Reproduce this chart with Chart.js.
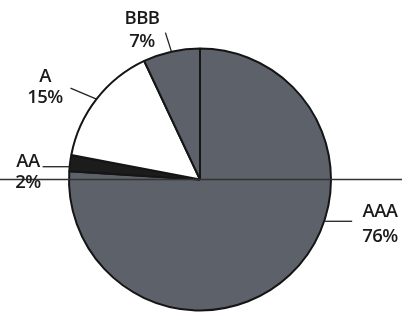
<!DOCTYPE html>
<html>
<head>
<meta charset="utf-8">
<script src="https://cdn.jsdelivr.net/npm/chart.js@4/dist/chart.umd.min.js"></script>
<style>
    html, body { margin: 0; padding: 0; background: #fff; }
    #wrap { width: 402px; height: 314px; }
</style>
</head>
<body>
<div id="wrap"><canvas id="pie" width="402" height="314"></canvas></div>
<script>
// slices, clockwise from 12 o'clock
const ratings = ['AAA', 'AA', 'A', 'BBB'];
const shares = [76, 2, 15, 7];
const sliceColors = ['#5d6169', '#1c1c1c', '#ffffff', '#5d6169'];

// where each callout sits (angle in deg clockwise from top, null = slice middle)
const callouts = [
    { angle: 108.6, dx: 28, dy: 0, tx: 380, ty: [217, 242] },
    { angle: 275.6, dx: -27, dy: 0, tx: 28, ty: [167, 188] },
    { angle: null, dx: -26, dy: -11, tx: 45, ty: [82, 103] },
    { angle: null, dx: -6, dy: -19, tx: 142, ty: [24, 47] }
];

const calloutPlugin = {
    id: 'callouts',
    afterDatasetsDraw(chart) {
        const ctx = chart.ctx;
        const arcs = chart.getDatasetMeta(0).data;
        const cx = arcs[0].x, cy = arcs[0].y, r = arcs[0].outerRadius;

        ctx.save();
        // the horizontal rule across the page
        ctx.strokeStyle = '#333';
        ctx.lineWidth = 1.3;
        ctx.beginPath();
        ctx.moveTo(0, cy);
        ctx.lineTo(chart.width, cy);
        ctx.stroke();

        ctx.font = '600 18.5px "Open Sans"';
        if ('letterSpacing' in ctx) ctx.letterSpacing = '-0.6px';
        ctx.fillStyle = '#1a1a1a';
        ctx.textAlign = 'center';
        ctx.textBaseline = 'alphabetic';
        ctx.lineWidth = 1.3;
        ctx.strokeStyle = '#222';

        callouts.forEach((c, i) => {
            const arc = arcs[i];
            const a = c.angle === null
                ? (arc.startAngle + arc.endAngle) / 2
                : (c.angle - 90) * Math.PI / 180;
            const x0 = cx + Math.cos(a) * r;
            const y0 = cy + Math.sin(a) * r;
            ctx.beginPath();
            ctx.moveTo(x0, y0);
            ctx.lineTo(x0 + c.dx, y0 + c.dy);
            ctx.stroke();

            ctx.fillText(ratings[i], c.tx, c.ty[0]);
            ctx.fillText(shares[i] + '%', c.tx, c.ty[1]);
        });
        ctx.restore();
    }
};

new Chart(document.getElementById('pie').getContext('2d'), {
    type: 'pie',
    data: {
        labels: ratings,
        datasets: [{
            data: shares,
            backgroundColor: sliceColors,
            borderColor: '#151515',
            borderWidth: 2
        }]
    },
    options: {
        responsive: false,
        animation: false,
        layout: { padding: { top: 47, bottom: 2, left: 68, right: 70 } },
        plugins: { legend: { display: false }, tooltip: { enabled: false } }
    },
    plugins: [calloutPlugin]
});
</script>
</body>
</html>
